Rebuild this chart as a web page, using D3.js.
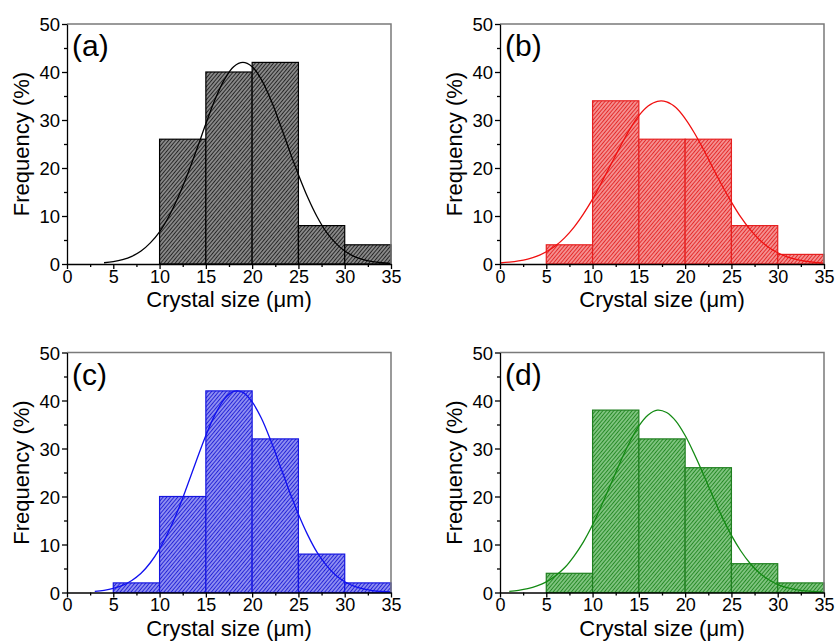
<!DOCTYPE html>
<html>
<head>
<meta charset="utf-8">
<script src="https://cdn.jsdelivr.net/npm/d3@7"></script>
<style>
    html, body { margin: 0; padding: 0; background: #fff; }
    svg { display: block; font-family: "Liberation Sans", Arial, sans-serif; }
</style>
</head>
<body>
<svg id="chart" width="837" height="641"></svg>
<script>
// histogram bins: lower edge of each 5 µm bin
const BIN_STARTS = [0, 5, 10, 15, 20, 25, 30]
const BIN_WIDTH = 5

const freqA = [0, 0, 26, 40, 42, 8, 4]
const freqB = [0, 4, 34, 26, 26, 8, 2]
const freqC = [0, 2, 20, 42, 32, 8, 2]
const freqD = [0, 4, 38, 32, 26, 6, 2]

// fitted curves, one point per µm (null = not drawn)
const FIT_X = d3.range(0, 36)
const fitA = [null, null, null, null, 0.26, 0.5, 0.92, 1.6, 2.7, 4.4, 6.7, 9.9, 13.9, 18.6,
    23.8, 29.2, 34.3, 38.4, 41.1, 42, 41.1, 38.4, 34.3, 29.2, 23.8, 18.6, 13.9, 9.9, 6.7,
    4.4, 2.7, 1.6, 0.9, 0.5, 0.26, 0.13]
const fitB = [0.21, 0.37, 0.63, 1.04, 1.65, 2.55, 3.8, 5.5, 7.7, 10.4, 13.5, 17.1, 20.8,
    24.5, 28.0, 30.9, 32.9, 33.9, 33.8, 32.6, 30.3, 27.3, 23.8, 20.0, 16.3, 12.9, 9.8, 7.2,
    5.1, 3.5, 2.35, 1.5, 0.94, 0.57, 0.33, 0.18]
const fitC = [null, null, null, 0.24, 0.46, 0.85, 1.48, 2.5, 4.0, 6.2, 9.1, 12.8, 17.2,
    22.3, 27.6, 32.7, 37.1, 40.3, 41.9, 41.7, 39.7, 36.3, 31.7, 26.5, 21.2, 16.3, 12.0, 8.4,
    5.7, 3.65, 2.25, 1.33, 0.75, 0.41, 0.21, 0.1]
const fitD = [null, 0.25, 0.46, 0.81, 1.37, 2.2, 3.5, 5.2, 7.6, 10.5, 14.1, 18.3, 22.7,
    27.2, 31.3, 34.7, 37.0, 38.0, 37.5, 35.7, 32.7, 28.8, 24.5, 20.0, 15.7, 11.9, 8.7, 6.1,
    4.1, 2.7, 1.66, 1.0, 0.58, 0.32, 0.17, 0.09]

const X_TICKS = [0, 5, 10, 15, 20, 25, 30, 35]
const X_MINOR = [2.5, 7.5, 12.5, 17.5, 22.5, 27.5, 32.5]
const Y_TICKS = [0, 10, 20, 30, 40, 50]
const Y_MINOR = [5, 15, 25, 35, 45]

const LABELS = ['(a)', '(b)', '(c)', '(d)']
const X_TITLE = 'Crystal size (μm)'
const Y_TITLE = 'Frequency (%)'

const FONT = '"Liberation Sans", Arial, sans-serif'
const plotW = 324
const plotH = 240

const panels = [
    { id: 'a', label: LABELS[0], freq: freqA, fit: fitA, left: 67, top: 24,
      line: '#000000', edge: '#000000', bg: '#a8a8a8', fg: '#262626' },
    { id: 'b', label: LABELS[1], freq: freqB, fit: fitB, left: 500, top: 24,
      line: '#f01010', edge: '#e62020', bg: '#fab0b0', fg: '#e42a2a' },
    { id: 'c', label: LABELS[2], freq: freqC, fit: fitC, left: 67, top: 352.5,
      line: '#1010f0', edge: '#1515e0', bg: '#b0b0fa', fg: '#2424d6' },
    { id: 'd', label: LABELS[3], freq: freqD, fit: fitD, left: 500, top: 352.5,
      line: '#138a13', edge: '#1f7f1f', bg: '#9cd69c', fg: '#268a26' }
]

const svg = d3.select('#chart')
const defs = svg.append('defs')

const x = d3.scaleLinear().domain([0, 35]).range([0, plotW])
const y = d3.scaleLinear().domain([0, 50]).range([plotH, 0])

const fitLine = d3.line()
    .defined((d) => d[1] !== null)
    .x((d) => x(d[0]))
    .y((d) => y(d[1]))
    .curve(d3.curveCatmullRom)

panels.forEach((p) => {
    // dense "/" hatching like the Origin fill pattern
    const pat = defs.append('pattern')
        .attr('id', `hatch-${p.id}`)
        .attr('patternUnits', 'userSpaceOnUse')
        .attr('width', 2.8)
        .attr('height', 2.8)
        .attr('patternTransform', 'rotate(40)')
    pat.append('rect')
        .attr('width', 2.8)
        .attr('height', 2.8)
        .attr('fill', p.bg)
    pat.append('line')
        .attr('x1', 1.4).attr('x2', 1.4)
        .attr('y1', 0).attr('y2', 2.8)
        .attr('stroke', p.fg)
        .attr('stroke-width', 1.4)

    const g = svg.append('g')
        .attr('transform', `translate(${p.left}, ${p.top})`)

    const bins = BIN_STARTS
        .map((start, i) => ({ start, value: p.freq[i] }))
        .filter((d) => d.value > 0)

    g.selectAll('.bar')
        .data(bins)
        .enter()
        .append('rect')
            .attr('class', 'bar')
            .attr('x', (d) => x(d.start))
            .attr('y', (d) => y(d.value))
            .attr('width', (d) => x(d.start + BIN_WIDTH) - x(d.start))
            .attr('height', (d) => y(0) - y(d.value))
            .attr('fill', `url(#hatch-${p.id})`)
            .attr('stroke', p.edge)
            .attr('stroke-width', 1.2)

    g.append('path')
        .datum(FIT_X.map((v, i) => [v, p.fit[i]]))
        .attr('d', fitLine)
        .attr('fill', 'none')
        .attr('stroke', p.line)
        .attr('stroke-width', 1.3)

    // frame: top and right in grey
    g.append('path')
        .attr('d', `M0,0H${plotW}V${plotH}`)
        .attr('fill', 'none')
        .attr('stroke', '#7a7a7a')
        .attr('stroke-width', 1.5)

    const xAxis = g.append('g')
        .attr('transform', `translate(0, ${plotH})`)
        .attr('font-family', FONT)
        .call(d3.axisBottom(x)
            .tickValues(X_TICKS)
            .tickSize(5)
            .tickSizeOuter(0)
            .tickPadding(1))
    xAxis.selectAll('text')
        .attr('font-size', 18)
        .attr('fill', '#000')

    g.append('g')
        .attr('transform', `translate(0, ${plotH})`)
        .call(d3.axisBottom(x)
            .tickValues(X_MINOR)
            .tickSize(3)
            .tickSizeOuter(0)
            .tickFormat(''))
        .call((a) => a.select('.domain').remove())

    const yAxis = g.append('g')
        .attr('font-family', FONT)
        .call(d3.axisLeft(y)
            .tickValues(Y_TICKS)
            .tickSize(5)
            .tickSizeOuter(0)
            .tickPadding(2))
    yAxis.selectAll('text')
        .attr('font-size', 18.5)
        .attr('fill', '#000')
        .attr('dy', '0.36em')

    g.append('g')
        .call(d3.axisLeft(y)
            .tickValues(Y_MINOR)
            .tickSize(3)
            .tickSizeOuter(0)
            .tickFormat(''))
        .call((a) => a.select('.domain').remove())

    g.selectAll('.domain, .tick line')
        .attr('stroke', '#000')
        .attr('stroke-width', 1.3)

    g.append('text')
        .attr('x', plotW / 2)
        .attr('y', plotH + 43)
        .attr('text-anchor', 'middle')
        .attr('font-size', 22)
        .text(X_TITLE)

    g.append('text')
        .attr('transform', `translate(-38, ${plotH / 2}) rotate(-90)`)
        .attr('text-anchor', 'middle')
        .attr('font-size', 22)
        .text(Y_TITLE)

    g.append('text')
        .attr('x', 5)
        .attr('y', 32)
        .attr('font-size', 30)
        .text(p.label)
})
</script>
</body>
</html>
